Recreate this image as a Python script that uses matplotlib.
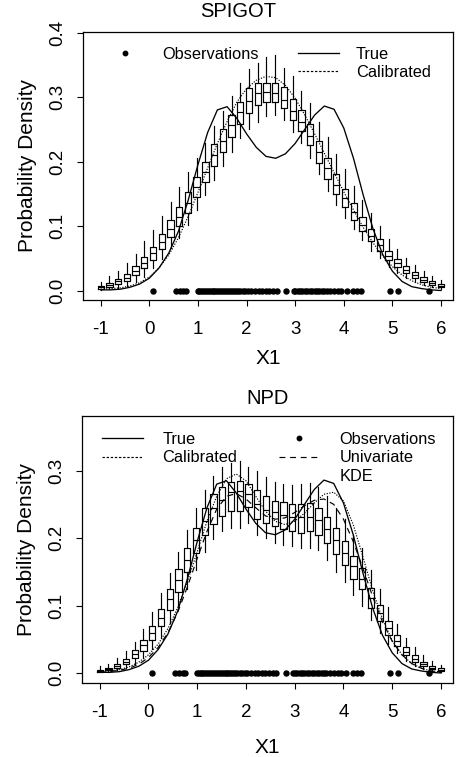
import numpy as np
import matplotlib
matplotlib.use("Agg")
import matplotlib.pyplot as plt
from matplotlib.lines import Line2D

plt.rcParams['font.family'] = ['Liberation Sans', 'DejaVu Sans']

# ---------------- data ----------------
box_x = [-1.000, -0.821, -0.641, -0.462, -0.282, -0.103, 0.077, 0.256, 0.436, 0.615,
         0.795, 0.974, 1.154, 1.333, 1.513, 1.692, 1.872, 2.051, 2.231, 2.410,
         2.590, 2.769, 2.949, 3.128, 3.308, 3.487, 3.667, 3.846, 4.026, 4.205,
         4.385, 4.564, 4.744, 4.923, 5.103, 5.282, 5.462, 5.641, 5.821, 6.000]

# SPIGOT boxplot summaries
sp_med = [0.005, 0.008, 0.014, 0.020, 0.031, 0.043, 0.058, 0.075, 0.096, 0.114,
          0.136, 0.160, 0.184, 0.210, 0.232, 0.256, 0.276, 0.294, 0.306, 0.308,
          0.307, 0.295, 0.279, 0.262, 0.240, 0.215, 0.190, 0.164, 0.143, 0.122,
          0.102, 0.085, 0.071, 0.054, 0.042, 0.032, 0.024, 0.016, 0.012, 0.007]
sp_q1 = [0.003, 0.005, 0.010, 0.015, 0.024, 0.035, 0.047, 0.064, 0.083, 0.100,
         0.120, 0.145, 0.168, 0.193, 0.214, 0.238, 0.258, 0.275, 0.288, 0.293,
         0.292, 0.283, 0.265, 0.248, 0.225, 0.198, 0.173, 0.150, 0.130, 0.110,
         0.092, 0.076, 0.062, 0.047, 0.036, 0.027, 0.019, 0.013, 0.009, 0.005]
sp_q3 = [0.007, 0.011, 0.018, 0.026, 0.038, 0.052, 0.068, 0.088, 0.110, 0.130,
         0.152, 0.176, 0.200, 0.227, 0.250, 0.272, 0.293, 0.314, 0.322, 0.322,
         0.322, 0.315, 0.297, 0.280, 0.258, 0.232, 0.206, 0.181, 0.158, 0.135,
         0.114, 0.096, 0.080, 0.062, 0.049, 0.038, 0.029, 0.021, 0.015, 0.010]
sp_lo = [0.001, 0.002, 0.004, 0.007, 0.013, 0.021, 0.035, 0.049, 0.066, 0.082,
         0.102, 0.125, 0.148, 0.172, 0.193, 0.215, 0.236, 0.250, 0.262, 0.270,
         0.272, 0.265, 0.245, 0.228, 0.205, 0.180, 0.155, 0.132, 0.112, 0.095,
         0.078, 0.062, 0.050, 0.037, 0.027, 0.019, 0.013, 0.008, 0.005, 0.002]
sp_hi = [0.013, 0.022, 0.030, 0.042, 0.057, 0.076, 0.094, 0.115, 0.137, 0.160,
         0.183, 0.205, 0.228, 0.255, 0.278, 0.302, 0.322, 0.343, 0.352, 0.362,
         0.365, 0.345, 0.332, 0.310, 0.290, 0.262, 0.238, 0.212, 0.188, 0.162,
         0.140, 0.120, 0.100, 0.080, 0.064, 0.050, 0.040, 0.030, 0.022, 0.016]

# NPD boxplot summaries
np_med = [0.003, 0.006, 0.011, 0.017, 0.028, 0.041, 0.060, 0.082, 0.109, 0.138,
          0.168, 0.197, 0.226, 0.245, 0.257, 0.268, 0.270, 0.266, 0.250, 0.242,
          0.238, 0.234, 0.231, 0.232, 0.232, 0.227, 0.213, 0.197, 0.178, 0.158,
          0.140, 0.111, 0.089, 0.066, 0.048, 0.031, 0.021, 0.013, 0.008, 0.005]
np_q1 = [0.002, 0.004, 0.008, 0.013, 0.022, 0.033, 0.049, 0.069, 0.094, 0.120,
         0.150, 0.178, 0.205, 0.221, 0.233, 0.240, 0.240, 0.246, 0.229, 0.222,
         0.218, 0.214, 0.210, 0.208, 0.210, 0.205, 0.192, 0.177, 0.160, 0.140,
         0.124, 0.097, 0.077, 0.056, 0.040, 0.026, 0.017, 0.010, 0.006, 0.003]
np_q3 = [0.005, 0.008, 0.014, 0.021, 0.034, 0.049, 0.070, 0.095, 0.124, 0.154,
         0.185, 0.215, 0.244, 0.265, 0.276, 0.283, 0.284, 0.280, 0.272, 0.262,
         0.255, 0.253, 0.250, 0.250, 0.252, 0.245, 0.232, 0.215, 0.196, 0.174,
         0.156, 0.126, 0.101, 0.077, 0.057, 0.038, 0.026, 0.017, 0.011, 0.007]
np_lo = [0.001, 0.002, 0.004, 0.007, 0.013, 0.022, 0.036, 0.052, 0.074, 0.098,
         0.125, 0.152, 0.180, 0.198, 0.210, 0.215, 0.215, 0.222, 0.205, 0.200,
         0.193, 0.190, 0.188, 0.185, 0.186, 0.182, 0.168, 0.150, 0.135, 0.115,
         0.100, 0.078, 0.060, 0.043, 0.030, 0.018, 0.011, 0.006, 0.003, 0.001]
np_hi = [0.010, 0.014, 0.022, 0.032, 0.046, 0.065, 0.090, 0.118, 0.148, 0.180,
         0.212, 0.245, 0.272, 0.292, 0.305, 0.312, 0.315, 0.305, 0.300, 0.290,
         0.283, 0.280, 0.278, 0.280, 0.282, 0.276, 0.262, 0.245, 0.228, 0.205,
         0.185, 0.152, 0.125, 0.098, 0.073, 0.052, 0.038, 0.026, 0.018, 0.012]

# density curves
curve_x = [-1.0, -0.8, -0.6, -0.4, -0.2, 0.0, 0.2, 0.4, 0.6, 0.8,
           1.0, 1.2, 1.4, 1.6, 1.8, 2.0, 2.2, 2.4, 2.6, 2.8,
           3.0, 3.2, 3.4, 3.6, 3.8, 4.0, 4.2, 4.4, 4.6, 4.8,
           5.0, 5.2, 5.4, 5.6, 5.8, 6.0]
true_y = [0.001, 0.001, 0.002, 0.005, 0.010, 0.019, 0.035, 0.058, 0.092, 0.140,
          0.195, 0.245, 0.280, 0.285, 0.267, 0.243, 0.222, 0.208, 0.205, 0.212,
          0.228, 0.250, 0.272, 0.286, 0.281, 0.252, 0.205, 0.148, 0.096, 0.056,
          0.030, 0.014, 0.006, 0.003, 0.001, 0.000]
sp_cal = [0.002, 0.003, 0.004, 0.007, 0.012, 0.021, 0.035, 0.055, 0.082, 0.115,
          0.152, 0.190, 0.228, 0.262, 0.292, 0.313, 0.326, 0.332, 0.330, 0.318,
          0.298, 0.272, 0.243, 0.213, 0.183, 0.153, 0.125, 0.098, 0.074, 0.054,
          0.037, 0.024, 0.015, 0.009, 0.005, 0.003]
np_cal = [0.002, 0.003, 0.005, 0.009, 0.016, 0.027, 0.043, 0.066, 0.097, 0.136,
          0.180, 0.225, 0.262, 0.288, 0.295, 0.285, 0.262, 0.240, 0.225, 0.220,
          0.225, 0.237, 0.252, 0.265, 0.268, 0.255, 0.220, 0.172, 0.122, 0.080,
          0.048, 0.027, 0.014, 0.007, 0.003, 0.002]
np_kde = [0.001, 0.002, 0.004, 0.007, 0.013, 0.023, 0.038, 0.060, 0.090, 0.128,
          0.170, 0.210, 0.243, 0.262, 0.266, 0.258, 0.245, 0.233, 0.228, 0.230,
          0.238, 0.248, 0.256, 0.258, 0.250, 0.228, 0.195, 0.155, 0.113, 0.076,
          0.047, 0.027, 0.014, 0.007, 0.003, 0.001]

obs_x = [0.08, 0.55, 0.63, 0.70, 0.75,
         1.00, 1.03, 1.07, 1.10, 1.14, 1.18, 1.22, 1.26, 1.30, 1.34, 1.38, 1.42,
         1.46, 1.50, 1.54, 1.58, 1.62, 1.66, 1.70, 1.74, 1.78, 1.82, 1.87, 1.92,
         1.97, 2.02, 2.10, 2.18, 2.25, 2.32, 2.40, 2.47, 2.55, 2.62,
         2.82,
         2.97, 3.00, 3.05, 3.10, 3.15, 3.20, 3.25, 3.30, 3.35, 3.40, 3.45, 3.50,
         3.55, 3.60, 3.65, 3.72, 3.80, 3.88, 3.95,
         4.06, 4.20, 4.27, 4.35, 4.95, 5.12, 5.75]

x_ticks = [-1, 0, 1, 2, 3, 4, 5, 6]
top_yticks = [0.0, 0.1, 0.2, 0.3, 0.4]
bot_yticks = [0.0, 0.1, 0.2, 0.3]

# ---------------- drawing ----------------
fig = plt.figure(figsize=(4.58, 7.57), dpi=100)
W, H = 458, 757
ax1 = fig.add_axes([83 / W, 1 - 300 / H, 370 / W, 268 / H])
ax2 = fig.add_axes([82 / W, 1 - 683 / H, 371 / W, 267 / H])

LW = 0.85
dotted = (0, (1.0, 1.3))
dashed = (0, (5, 4))


def draw_boxes(ax, med, q1, q3, lo, hi):
    stats = []
    for m, a, b, l, h in zip(med, q1, q3, lo, hi):
        stats.append(dict(med=m, q1=a, q3=b, whislo=l, whishi=h, fliers=[]))
    ax.bxp(stats, positions=box_x, widths=0.13, showcaps=False, showfliers=False,
           manage_ticks=False, patch_artist=False,
           boxprops=dict(color='black', linewidth=LW),
           whiskerprops=dict(color='black', linewidth=LW),
           medianprops=dict(color='black', linewidth=LW))


def style_axes(ax, ylim, yticks, title, title_x, title_pad, xlab_y):
    ax.set_xlim(-1.364, 6.247)
    ax.set_ylim(*ylim)
    ax.set_xticks(x_ticks)
    ax.set_xticklabels([str(t) for t in x_ticks], fontsize=13.5)
    ax.set_yticks(yticks)
    ax.set_yticklabels(['%.1f' % t for t in yticks], fontsize=13.5,
                       rotation=90, va='center')
    ax.tick_params(direction='out', length=4, width=0.8)
    ax.tick_params(axis='x', pad=11)
    ax.tick_params(axis='y', pad=8)
    for s in ax.spines.values():
        s.set_linewidth(0.9)
    ax.set_ylabel('Probability Density', fontsize=15)
    ax.yaxis.set_label_coords(-0.125, 0.5)
    ax.set_xlabel('X1', fontsize=15)
    ax.xaxis.set_label_coords(0.5, xlab_y)
    ax.set_title(title, fontsize=14.5, pad=title_pad, x=title_x)


# top: SPIGOT
draw_boxes(ax1, sp_med, sp_q1, sp_q3, sp_lo, sp_hi)
ax1.plot(curve_x, true_y, color='black', lw=0.95)
ax1.plot(curve_x, sp_cal, color='black', lw=0.85, linestyle=dotted)
ax1.plot(obs_x, [0.0] * len(obs_x), 'o', color='black', markersize=3.6)
style_axes(ax1, (-0.0147, 0.4008), top_yticks, 'SPIGOT', 0.42, 11, -0.183)

blank = Line2D([], [], linestyle='none', marker='none')
h_obs = Line2D([], [], linestyle='none', marker='o', color='black', markersize=3.2)
h_true = Line2D([], [], color='black', lw=0.95)
h_cal = Line2D([], [], color='black', lw=0.85, linestyle=(0, (2, 1.5)))
h_kde = Line2D([], [], color='black', lw=0.85, linestyle=dashed)

ax1.legend([h_obs, blank, h_true, h_cal], ['Observations', '', 'True', 'Calibrated'],
           ncol=2, loc='upper left', bbox_to_anchor=(0.058, 0.945), frameon=False,
           fontsize=11.8, handlelength=2.5, handletextpad=1.0, columnspacing=2.45,
           labelspacing=0.2, borderpad=0, borderaxespad=0)

# bottom: NPD
draw_boxes(ax2, np_med, np_q1, np_q3, np_lo, np_hi)
ax2.plot(curve_x, true_y, color='black', lw=0.95)
ax2.plot(curve_x, np_cal, color='black', lw=0.85, linestyle=dotted)
ax2.plot(curve_x, np_kde, color='black', lw=0.85, linestyle=dashed)
ax2.plot(obs_x, [0.0] * len(obs_x), 'o', color='black', markersize=3.6)
style_axes(ax2, (-0.0148, 0.381), bot_yticks, 'NPD', 0.5, 9, -0.206)

ax2.legend([h_true, h_cal, blank, h_obs, h_kde, blank],
           ['True', 'Calibrated', '', 'Observations', 'Univariate', 'KDE'],
           ncol=2, loc='upper left', bbox_to_anchor=(0.053, 0.94), frameon=False,
           fontsize=11.8, handlelength=2.5, handletextpad=1.2, columnspacing=2.55,
           labelspacing=0.2, borderpad=0, borderaxespad=0)

fig.savefig('out.png', dpi=100)
